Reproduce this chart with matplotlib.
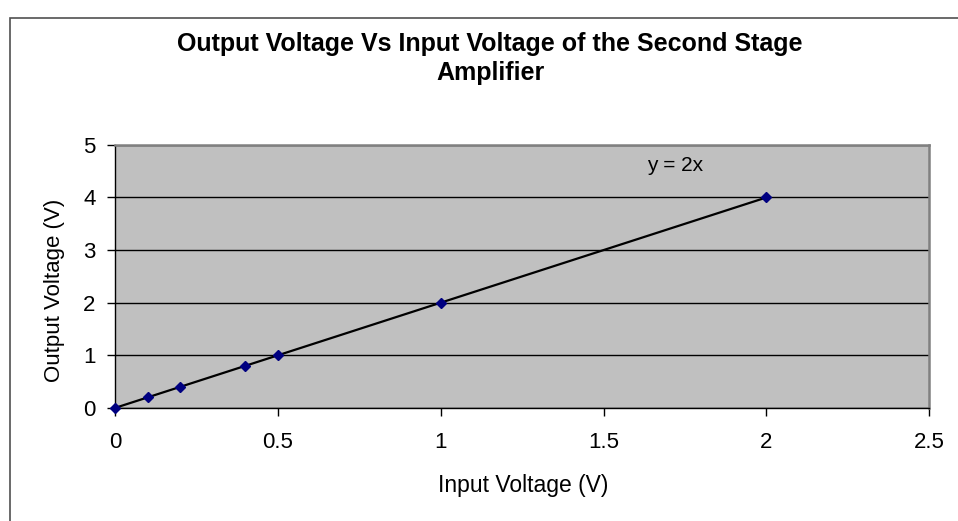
import matplotlib
matplotlib.use("Agg")
import matplotlib.pyplot as plt
from matplotlib.patches import Rectangle

# measured points
vin = [0, 0.1, 0.2, 0.4, 0.5, 1, 2]
vout = [0, 0.2, 0.4, 0.8, 1, 2, 4]

# trendline y = 2x
trend_x = [0, 2]
trend_y = [0, 4]

x_ticks = [0, 0.5, 1, 1.5, 2, 2.5]
x_tick_labels = ["0", "0.5", "1", "1.5", "2", "2.5"]
y_ticks = [0, 1, 2, 3, 4, 5]

plt.rcParams["font.family"] = ["Liberation Sans", "DejaVu Sans"]

fig = plt.figure(figsize=(9.58, 5.21), dpi=100)
# chart border (only top and left visible, rest is clipped)
fig.patches.append(Rectangle((10 / 958, -0.1), 1.2, 1.1 - 18 / 521,
                             transform=fig.transFigure, fill=False,
                             edgecolor="#505050", linewidth=1.2))

ax = fig.add_axes([0.120, 0.217, 0.850, 0.505])
ax.set_facecolor("#C0C0C0")

ax.plot(trend_x, trend_y, color="black", linewidth=1.6, zorder=3)
ax.plot(vin, vout, linestyle="none", marker="D", markersize=4.8,
        color="#000080", zorder=4, clip_on=False)

ax.set_xlim(0, 2.5)
ax.set_ylim(0, 5)
ax.set_xticks(x_ticks)
ax.set_xticklabels(x_tick_labels)
ax.set_yticks(y_ticks)
ax.yaxis.grid(True, color="black", linewidth=1)
ax.set_axisbelow(True)

for side in ["top", "right"]:
    ax.spines[side].set_color("#808080")
    ax.spines[side].set_linewidth(1.8)
for side in ["left", "bottom"]:
    ax.spines[side].set_color("black")
    ax.spines[side].set_linewidth(1)

ax.tick_params(axis="both", direction="out", length=6, width=1,
               labelsize=16, colors="black")
ax.tick_params(axis="x", pad=11)
ax.tick_params(axis="y", pad=8)

ax.text(1.72, 4.6, "y = 2x", fontsize=15, ha="center", va="center")

ax.set_xlabel("Input Voltage (V)", fontsize=16.5)
ax.set_ylabel("Output Voltage (V)", fontsize=16)
ax.xaxis.set_label_coords(0.501, -0.293)
ax.xaxis.label.set_va("center")
ax.yaxis.set_label_coords(-0.0737, 0.445)
ax.yaxis.label.set_va("center")

fig.text(0.5115, 0.888, "Output Voltage Vs Input Voltage of the Second Stage\nAmplifier",
         ha="center", va="center", fontsize=18, fontweight="bold",
         linespacing=1.25)

fig.savefig("out.png", dpi=100)
